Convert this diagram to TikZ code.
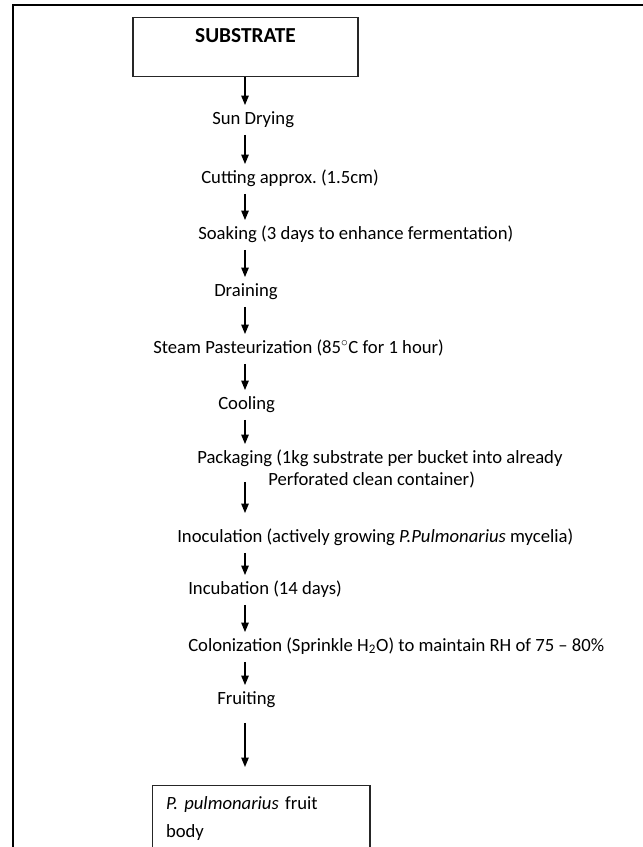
\documentclass[tikz,border=0pt]{standalone}
\usepackage{fontspec}
\setmainfont{Carlito}
\usetikzlibrary{arrows.meta,positioning}
\frenchspacing

\begin{document}
\begin{tikzpicture}[
		x=0.75pt, y=-0.75pt,
		every node/.style={font=\fontsize{14pt}{17pt}\selectfont},
		stage/.style={anchor=base west, inner xsep=0pt, inner ysep=5pt, text height=9pt, text depth=3pt},
		rect/.style={rectangle, draw=black!85, line width=1pt},
		arrow/.style={-{Triangle[length=7pt, width=5.5pt]}, line width=1pt}
	]

	% Page and frame
	\useasboundingbox (0,0) rectangle (643,847);
	\clip (0,0) rectangle (643,847);
	\draw[line width=1.3pt] (13,850) -- (13,5) -- (645,5);
	\coordinate (spine) at (245,0);

	% Nodes
	\node[rect, anchor=north, minimum width=168.75pt, inner ysep=5pt, text height=13.75pt, text depth=20.5pt, font=\fontsize{16pt}{18pt}\selectfont] (SUB) at (245.5,17) {\textbf{SUBSTRATE}};
	\node[stage] (SD) at (212,124) {Sun Drying};
	\node[stage] (CUT) at (201,183) {Cutting approx. (1.5cm)};
	\node[stage] (SOAK) at (198,239) {Soaking (3 days to enhance fermentation)};
	\node[stage] (DRAIN) at (214,296) {Draining};
	\node[stage] (STEAM) at (153,353) {Steam Pasteurization (85$^{\circ}$C for 1 hour)};
	\node[stage] (COOL) at (218,409) {Cooling};
	\node[stage] (PACK) at (197,463) {Packaging (1kg substrate per bucket into already};
	\node[stage] (PACKB) at (268,485) {Perforated clean container)};
	\node[stage] (INOC) at (177,542) {Inoculation (actively growing \textit{P.Pulmonarius} mycelia)};
	\node[stage] (INCUB) at (188,594) {Incubation (14 days)};
	\node[stage] (COLON) at (188,651) {Colonization (Sprinkle H\textsubscript{2}O) to maintain RH of 75 -- 80\%};
	\node[stage] (FRUIT) at (217,704) {Fruiting};
	\node[rect, anchor=north west, text width=143pt, inner xsep=10pt, inner ysep=8pt, align=left, font=\fontsize{14pt}{21pt}\selectfont] (BODY) at (152,785) {\textit{P. pulmonarius} fruit\\body};

	% Arrows
	\draw[arrow] (SUB.south -| spine) -- (SD.north -| spine);
	\draw[arrow] (SD.south -| spine) -- (CUT.north -| spine);
	\draw[arrow] (CUT.south -| spine) -- (SOAK.north -| spine);
	\draw[arrow] (SOAK.south -| spine) -- (DRAIN.north -| spine);
	\draw[arrow] (DRAIN.south -| spine) -- (STEAM.north -| spine);
	\draw[arrow] (STEAM.south -| spine) -- (COOL.north -| spine);
	\draw[arrow] (COOL.south -| spine) -- (PACK.north -| spine);
	\draw[arrow, shorten <=6pt, shorten >=7.5pt] (PACK.south -| spine) -- (INOC.north -| spine);
	\draw[arrow] (INOC.south -| spine) -- (INCUB.north -| spine);
	\draw[arrow] (INCUB.south -| spine) -- (COLON.north -| spine);
	\draw[arrow] (COLON.south -| spine) -- (FRUIT.north -| spine);
	\draw[arrow, shorten <=6pt, shorten >=13.5pt] (FRUIT.south -| spine) -- (BODY.north -| spine);

\end{tikzpicture}
\end{document}
